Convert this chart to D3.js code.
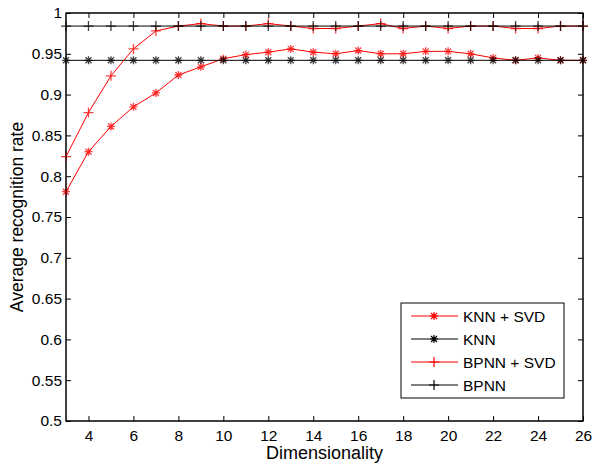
<!DOCTYPE html>
<html>
<head>
<meta charset="utf-8">
<script src="https://cdn.jsdelivr.net/npm/d3@7/dist/d3.min.js"></script>
<style>
  body { margin: 0; background: #fff; }
  svg { font-family: "Liberation Sans", Arial, sans-serif; }
</style>
</head>
<body>
<svg id="chart" width="597" height="466"></svg>
<script>
var dims = d3.range(3, 27);
var knnSvd = [0.781, 0.830, 0.861, 0.885, 0.902, 0.924, 0.934, 0.944, 0.949, 0.952, 0.956, 0.952,
              0.950, 0.954, 0.950, 0.950, 0.953, 0.953, 0.950, 0.945, 0.942, 0.945, 0.942, 0.942];
var knn = dims.map(function () { return 0.942; });
var bpnnSvd = [0.824, 0.878, 0.923, 0.956, 0.978, 0.984, 0.987, 0.984, 0.984, 0.987, 0.984, 0.981,
               0.981, 0.984, 0.987, 0.981, 0.984, 0.981, 0.984, 0.984, 0.981, 0.981, 0.984, 0.984];
var bpnn = dims.map(function () { return 0.984; });
var xTicks = d3.range(4, 27, 2);
var yTicks = d3.range(0, 11).map(function (i) { return 0.5 + i * 0.05; });

var series = [
    { name: "KNN + SVD", values: knnSvd, color: "#ff0000", marker: "star" },
    { name: "KNN", values: knn, color: "#000000", marker: "star" },
    { name: "BPNN + SVD", values: bpnnSvd, color: "#ff0000", marker: "plus" },
    { name: "BPNN", values: bpnn, color: "#000000", marker: "plus" }
];

var margin = { left: 66, top: 13, right: 583, bottom: 421 };
var svg = d3.select("#chart");

var x = d3.scaleLinear().domain([3, 26]).range([margin.left, margin.right]);
var y = d3.scaleLinear().domain([0.5, 1]).range([margin.bottom, margin.top]);

function markerPath(type, cx, cy) {
    var p = d3.path();
    if (type === "plus") {
        var r = 5;
        p.moveTo(cx - r, cy); p.lineTo(cx + r, cy);
        p.moveTo(cx, cy - r); p.lineTo(cx, cy + r);
    } else {
        var s = 4, d = 3;
        p.moveTo(cx - s, cy); p.lineTo(cx + s, cy);
        p.moveTo(cx, cy - s); p.lineTo(cx, cy + s);
        p.moveTo(cx - d, cy - d); p.lineTo(cx + d, cy + d);
        p.moveTo(cx - d, cy + d); p.lineTo(cx + d, cy - d);
    }
    return p.toString();
}

// box
svg.append("rect")
    .attr("x", margin.left).attr("y", margin.top)
    .attr("width", margin.right - margin.left)
    .attr("height", margin.bottom - margin.top)
    .attr("fill", "#fff").attr("stroke", "#000").attr("stroke-width", 1);

// axes (inward ticks, matlab style)
svg.append("g")
    .attr("transform", "translate(0," + margin.bottom + ")")
    .call(d3.axisBottom(x).tickValues(xTicks).tickSizeInner(-5).tickSizeOuter(0).tickPadding(9))
    .call(function (g) { g.select(".domain").remove(); });
svg.append("g")
    .attr("transform", "translate(0," + margin.top + ")")
    .call(d3.axisTop(x).tickValues(xTicks).tickSizeInner(-5).tickSizeOuter(0).tickFormat(""))
    .call(function (g) { g.select(".domain").remove(); });
svg.append("g")
    .attr("transform", "translate(" + margin.left + ",0)")
    .call(d3.axisLeft(y).tickValues(yTicks).tickSizeInner(-5).tickSizeOuter(0).tickPadding(4)
        .tickFormat(function (d) { return d3.format("")(+d.toFixed(2)); }))
    .call(function (g) { g.select(".domain").remove(); });
svg.append("g")
    .attr("transform", "translate(" + margin.right + ",0)")
    .call(d3.axisRight(y).tickValues(yTicks).tickSizeInner(-5).tickSizeOuter(0).tickFormat(""))
    .call(function (g) { g.select(".domain").remove(); });

svg.selectAll(".tick text").attr("font-size", 15.5).attr("fill", "#000")
    .attr("font-family", "Liberation Sans, Arial, sans-serif");

// series
var line = d3.line()
    .x(function (d, i) { return x(dims[i]); })
    .y(function (d) { return y(d); });

series.forEach(function (s) {
    var g = svg.append("g");
    g.append("path")
        .attr("d", line(s.values))
        .attr("fill", "none")
        .attr("stroke", s.color)
        .attr("stroke-width", 1);
    g.selectAll("path.m")
        .data(s.values)
        .enter().append("path")
        .attr("class", "m")
        .attr("d", function (d, i) { return markerPath(s.marker, x(dims[i]), y(d)); })
        .attr("fill", "none")
        .attr("stroke", s.color)
        .attr("stroke-opacity", 0.75)
        .attr("stroke-width", 1.3);
});

// redraw box edges on top
svg.append("rect")
    .attr("x", margin.left).attr("y", margin.top)
    .attr("width", margin.right - margin.left)
    .attr("height", margin.bottom - margin.top)
    .attr("fill", "none").attr("stroke", "#000").attr("stroke-width", 1);

// legend
var legend = svg.append("g");
legend.append("rect")
    .attr("x", 401).attr("y", 303).attr("width", 163).attr("height", 95)
    .attr("fill", "#fff").attr("stroke", "#000").attr("stroke-width", 1);
series.forEach(function (s, i) {
    var ly = 316 + i * 23;
    legend.append("line")
        .attr("x1", 411).attr("x2", 458).attr("y1", ly).attr("y2", ly)
        .attr("stroke", s.color).attr("stroke-width", 1);
    legend.append("path")
        .attr("d", markerPath(s.marker, 434, ly))
        .attr("fill", "none").attr("stroke", s.color).attr("stroke-width", 1.2);
    legend.append("text")
        .attr("x", 463).attr("y", ly + 5.5)
        .attr("font-size", 15.5)
        .text(s.name);
});

// axis labels
svg.append("text")
    .attr("x", (margin.left + margin.right) / 2).attr("y", 459)
    .attr("text-anchor", "middle").attr("font-size", 18)
    .text("Dimensionality");
svg.append("text")
    .attr("transform", "translate(23," + ((margin.top + margin.bottom) / 2) + ") rotate(-90)")
    .attr("text-anchor", "middle").attr("font-size", 17.5)
    .text("Average recognition rate");
</script>
</body>
</html>
